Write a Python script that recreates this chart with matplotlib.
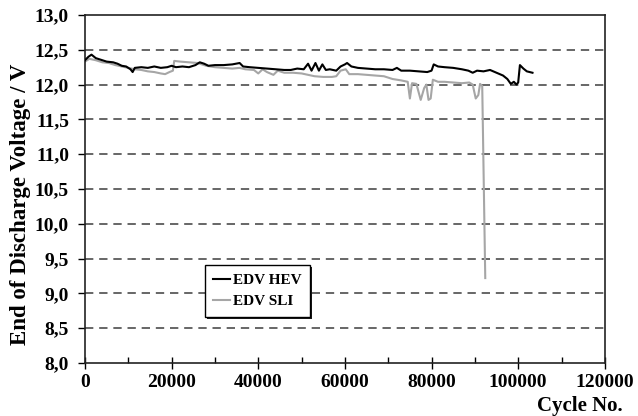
import numpy as np
import matplotlib.pyplot as plt
from matplotlib.ticker import FuncFormatter, MultipleLocator

# End-of-discharge voltage readings over cycle life
hev_cycles = [0, 800, 1500, 2500, 3500, 5000, 6500, 7500, 8500, 9500, 10500, 11000,
              11500, 13000, 14500, 16000, 17500, 19000, 20000, 21000, 22500, 24000,
              25500, 26500, 27500, 28500, 30000, 32000, 34000, 35700, 36500, 38000,
              40000, 42000, 44000, 46000, 47500, 49000, 50500, 51500, 52300, 53200,
              54000, 54800, 55600, 56500, 58000, 59000, 60000, 60500, 61500, 63000,
              65000, 67000, 69000, 71000, 72000, 73000, 75000, 77000, 79000, 80000,
              80500, 81500, 83000, 85000, 87000, 88500, 89500, 90500, 92000, 93500,
              95000, 96500, 97500, 98300, 99000, 99600, 100000, 100400, 101200,
              102000, 103300]
hev_edv = [12.35, 12.40, 12.43, 12.38, 12.36, 12.33, 12.32, 12.30, 12.27, 12.26, 12.22,
           12.18, 12.24, 12.25, 12.24, 12.26, 12.24, 12.25, 12.27, 12.25, 12.26, 12.25,
           12.28, 12.32, 12.30, 12.27, 12.28, 12.28, 12.29, 12.31, 12.26, 12.25, 12.24,
           12.23, 12.22, 12.21, 12.21, 12.23, 12.22, 12.30, 12.20, 12.31, 12.20, 12.29,
           12.21, 12.22, 12.20, 12.26, 12.29, 12.31, 12.26, 12.24, 12.23, 12.22, 12.22,
           12.21, 12.24, 12.20, 12.20, 12.19, 12.18, 12.20, 12.29, 12.26, 12.25, 12.24,
           12.22, 12.20, 12.17, 12.20, 12.19, 12.21, 12.17, 12.13, 12.08, 12.01, 12.04,
           12.00, 12.03, 12.28, 12.23, 12.19, 12.17]

sli_cycles = [0, 1000, 2500, 4000, 5500, 7000, 8500, 10000, 11500, 13000, 14500, 16000,
              17500, 18500, 19500, 20300, 20600, 22000, 24000, 26000, 28000, 30000,
              32000, 34000, 35700, 37000, 39000, 40000, 41000, 42000, 43500, 44500,
              46000, 48000, 50000, 51500, 53000, 55000, 57000, 58000, 59000, 60200,
              61000, 63000, 65000, 67000, 69000, 71000, 73000, 74500, 75000, 75500,
              76500, 77500, 78300, 78800, 79300, 79800, 80300, 81500, 83000, 85000,
              87000, 88700, 89500, 90200, 90800, 91200, 91700, 92400]
sli_edv = [12.33, 12.37, 12.35, 12.32, 12.31, 12.28, 12.26, 12.24, 12.22, 12.21, 12.19,
           12.18, 12.16, 12.15, 12.18, 12.20, 12.34, 12.33, 12.32, 12.31, 12.27, 12.25,
           12.24, 12.23, 12.24, 12.22, 12.21, 12.16, 12.22, 12.18, 12.14, 12.20, 12.17,
           12.17, 12.16, 12.14, 12.12, 12.11, 12.11, 12.12, 12.20, 12.22, 12.15, 12.15,
           12.14, 12.13, 12.12, 12.08, 12.06, 12.04, 11.80, 12.02, 12.01, 11.78, 11.95,
           12.00, 11.78, 11.80, 12.07, 12.04, 12.04, 12.03, 12.02, 12.03, 12.00, 11.80,
           11.85, 12.01, 11.98, 9.22]

plt.rcParams['font.family'] = 'Liberation Serif'
plt.rcParams['font.weight'] = 'bold'

fig = plt.figure(figsize=(6.38, 4.16), dpi=100)
ax = fig.add_axes([0.1332, 0.1274, 0.8148, 0.8366])

ax.plot(hev_cycles, hev_edv, color='black', lw=1.5, label='EDV HEV', zorder=3)
ax.plot(sli_cycles, sli_edv, color='#a6a6a6', lw=1.5, label='EDV SLI', zorder=2)

ax.set_xlim(0, 120000)
ax.set_ylim(8.0, 13.0)
ax.xaxis.set_major_locator(MultipleLocator(20000))
ax.xaxis.set_minor_locator(MultipleLocator(10000))
ax.yaxis.set_major_locator(MultipleLocator(0.5))
ax.yaxis.set_major_formatter(FuncFormatter(lambda v, p: f"{v:.1f}".replace('.', ',')))

for y in np.arange(8.5, 13.0, 0.5):
    ax.axhline(y, color='#4d4d4d', lw=1.2, ls=(0, (5, 3.5)), zorder=1)

for s in ax.spines.values():
    s.set_linewidth(1.2)
    s.set_color('#222222')

ax.tick_params(axis='y', direction='out', length=5, width=1.0, pad=6.5, labelsize=14)
ax.tick_params(axis='x', which='major', direction='inout', length=8, width=1.0,
               pad=4, labelsize=14)
ax.tick_params(axis='x', which='minor', direction='in', length=4, width=1.0)

ax.set_ylabel('End of Discharge Voltage / V', fontsize=16.5, fontweight='bold')
ax.yaxis.set_label_coords(-0.104, 0.455)
ax.set_xlabel('Cycle No.', fontsize=15, fontweight='bold', ha='right')
ax.xaxis.set_label_coords(1.035, -0.095)

leg = ax.legend(loc='upper left', bbox_to_anchor=(0.231, 0.2816), fancybox=False,
                shadow={'facecolor': '#1a1a1a', 'edgecolor': 'none', 'alpha': 1,
                        'ox': 1.5, 'oy': -1.5},
                edgecolor='black', fontsize=11, handlelength=1.05,
                handletextpad=0.25, borderpad=0.55, labelspacing=0.5,
                borderaxespad=0, framealpha=1)
leg.get_frame().set_linewidth(1.0)
for t in leg.get_texts():
    t.set_fontweight('bold')

fig.savefig('out.png', dpi=100)
